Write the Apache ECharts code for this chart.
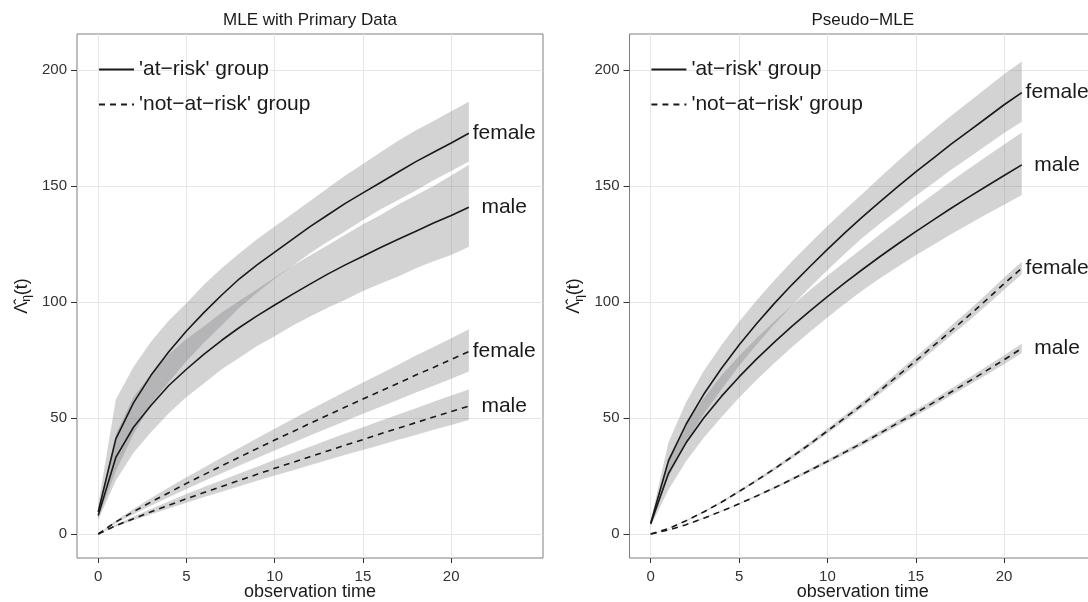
<!DOCTYPE html>
<html>
<head>
    <meta charset="utf-8" />
    <title>MLE vs Pseudo-MLE</title>
    <script src="https://cdn.jsdelivr.net/npm/echarts@6/dist/echarts.min.js"></script>
    <style type="text/css">
        html, body { margin: 0; padding: 0; background: #fff; }
        #chart { width: 1088px; height: 602px; }
    </style>
</head>
<body>
    <div id="chart"></div>
    <script>
        // observation times
        var times = [0, 1, 2, 3, 4, 5, 6, 7, 8, 9, 10, 11, 12, 13, 14, 15, 16, 17, 18, 19, 20, 21];

        // MLE with primary data - 'at-risk' group
        var mleRiskF   = [9.5, 41, 56.5, 68.5, 78.5, 87.5, 95.5, 103, 110, 116, 121.5, 127, 132.5, 137.5, 142.5, 147, 151.5, 156, 160.5, 164.5, 168.5, 172.7];
        var mleRiskFHi = [12.5, 58, 72, 83, 92, 99.5, 107.5, 114.5, 121, 127, 132.5, 138, 143.5, 149, 154.5, 159.5, 164.5, 169.5, 174, 178, 182.2, 186.3];
        var mleRiskFLo = [7, 27, 43, 56, 65.5, 74.5, 82.5, 90, 97.5, 104, 110, 115.5, 121, 126, 130.5, 135.3, 140, 144, 148, 152.5, 156.5, 160.5];
        var mleRiskM   = [8, 33, 46, 55.5, 64, 71, 77.5, 83.5, 89, 94, 98.7, 103.3, 107.7, 112, 116, 119.7, 123.5, 127, 130.5, 134, 137.3, 140.8];
        var mleRiskMHi = [10, 43, 59, 69, 77.5, 84, 89.5, 95.5, 100.5, 105.5, 110.5, 115.5, 120, 124.5, 129, 133.5, 137.5, 142, 146, 150, 154.5, 159];
        var mleRiskMLo = [6, 23, 35, 44, 52, 59, 65, 71, 76, 81, 85.2, 89.8, 93.7, 97.5, 101, 104.7, 108, 111, 114.5, 117.5, 120.3, 123.8];

        // MLE with primary data - 'not-at-risk' group
        var mleNotF   = [0, 5.2, 9.6, 13.8, 17.8, 21.8, 25.6, 29.4, 33.1, 36.8, 40.5, 44.0, 47.7, 51.2, 54.7, 58.2, 61.6, 65.0, 68.5, 71.8, 75.2, 78.6];
        var mleNotFHi = [0, 5.8, 10.8, 15.5, 20, 24.5, 28.7, 33, 37.1, 41.3, 45.4, 49.4, 53.5, 57.4, 61.4, 65.3, 69.1, 72.9, 76.9, 80.6, 84.4, 88.2];
        var mleNotFLo = [0, 4.6, 8.5, 12.3, 15.8, 19.4, 22.8, 26.2, 29.5, 32.8, 36, 39.2, 42.5, 45.6, 48.7, 51.8, 54.8, 57.9, 61, 63.9, 66.9, 70];
        var mleNotM   = [0, 3.6, 6.6, 9.6, 12.4, 15.2, 17.9, 20.5, 23.1, 25.7, 28.3, 30.8, 33.3, 35.8, 38.3, 40.7, 43.2, 45.6, 48, 50.4, 52.8, 55.1];
        var mleNotMHi = [0, 4.1, 7.5, 10.8, 14, 17.2, 20.2, 23.2, 26.1, 29, 32, 34.8, 37.6, 40.5, 43.3, 46, 48.8, 51.5, 54.2, 57, 59.7, 62.3];
        var mleNotMLo = [0, 3.2, 5.9, 8.5, 11, 13.5, 15.9, 18.2, 20.6, 22.9, 25.2, 27.4, 29.6, 31.9, 34.1, 36.2, 38.4, 40.6, 42.7, 44.9, 47, 49.1];

        // Pseudo-MLE - 'at-risk' group
        var psRiskF   = [4.6, 31.4, 47.3, 60.2, 71.3, 81.5, 90.7, 99.4, 107.5, 115.2, 122.7, 129.9, 136.8, 143.4, 149.8, 156.1, 162, 168, 173.6, 179.3, 185, 190.2];
        var psRiskFHi = [5.6, 39.4, 56.8, 70.2, 81.3, 91.5, 100.7, 109.4, 117.5, 125.2, 132.7, 139.9, 146.8, 153.9, 160.8, 167.6, 174, 180.3, 186.2, 192.2, 198.2, 203.6];
        var psRiskFLo = [3.6, 24.4, 39.3, 51.7, 62.3, 72.5, 81.7, 90.4, 98.5, 106.2, 113.7, 120.9, 127.8, 133.9, 139.8, 145.8, 151.3, 157, 162.2, 167.5, 172.8, 177.7];
        var psRiskM   = [4.4, 26, 39.3, 50, 59.3, 67.7, 75.5, 82.7, 89.6, 96.1, 102.3, 108.3, 114.1, 119.7, 125.1, 130.3, 135.4, 140.4, 145.2, 149.9, 154.5, 159.1];
        var psRiskMHi = [5.4, 33, 47.3, 58.5, 68.3, 76.7, 84.5, 91.7, 98.6, 105.1, 111.3, 117.3, 123.3, 129.3, 135.1, 140.8, 146.4, 152, 157.4, 162.7, 167.9, 173];
        var psRiskMLo = [3.4, 19, 31.3, 41.5, 50.3, 58.7, 66.5, 73.7, 80.6, 87.1, 93.3, 99.3, 105.1, 110.3, 115.3, 120.1, 124.7, 129.2, 133.5, 137.8, 141.9, 146.1];

        // Pseudo-MLE - 'not-at-risk' group
        var psNotF   = [0, 2.3, 5.7, 9.5, 13.7, 18.3, 23.1, 28.1, 33.3, 38.7, 44.4, 50.1, 55.9, 62, 68.3, 74.6, 81.1, 87.6, 94.1, 100.9, 107.9, 114.6];
        var psNotFHi = [0, 2.4, 5.9, 9.8, 14.1, 18.8, 23.7, 28.8, 34.1, 39.6, 45.5, 51.3, 57.2, 63.5, 69.9, 76.4, 83, 89.7, 96.4, 103.3, 110.5, 117.3];
        var psNotFLo = [0, 2.2, 5.5, 9.2, 13.3, 17.8, 22.5, 27.4, 32.5, 37.8, 43.3, 48.9, 54.6, 60.5, 66.7, 72.8, 79.2, 85.5, 91.8, 98.5, 105.3, 111.9];
        var psNotM   = [0, 1.7, 4.0, 6.8, 9.8, 13, 16.4, 19.9, 23.6, 27.4, 31.3, 35.3, 39.3, 43.5, 47.9, 52.2, 56.6, 61.2, 65.7, 70.4, 75.1, 80];
        var psNotMHi = [0, 1.8, 4.1, 7, 10, 13.3, 16.8, 20.4, 24.2, 28.1, 32.1, 36.2, 40.3, 44.6, 49.1, 53.5, 58, 62.7, 67.3, 72.2, 77, 82];
        var psNotMLo = [0, 1.6, 3.9, 6.6, 9.6, 12.7, 16, 19.4, 23, 26.7, 30.5, 34.4, 38.3, 42.4, 46.7, 50.9, 55.2, 59.7, 64.1, 68.6, 73.2, 78];

        // axis ticks and texts
        var xTicks = [0, 5, 10, 15, 20];
        var yTicks = [0, 50, 100, 150, 200];
        var groupNames = ["'at\u2212risk' group", "'not\u2212at\u2212risk' group"];
        var panelTitles = ['MLE with Primary Data', 'Pseudo\u2212MLE'];

        var FONT = "'Liberation Sans', Arial, Helvetica, sans-serif";
        var INK = '#1a1a1a';
        var BAND = 'rgba(120,120,125,0.33)';
        var LABEL_T = 23;

        function pairs(ys) {
            return times.map(function (t, i) { return [t, ys[i]]; });
        }

        function band(hi, lo, gi) {
            return {
                type: 'custom',
                xAxisIndex: gi,
                yAxisIndex: gi,
                silent: true,
                z: 1,
                data: [[0, 0]],
                renderItem: function (params, api) {
                    var pts = [];
                    for (var i = 0; i < times.length; i++) pts.push(api.coord([times[i], hi[i]]));
                    for (var j = times.length - 1; j >= 0; j--) pts.push(api.coord([times[j], lo[j]]));
                    return { type: 'polygon', shape: { points: pts }, style: { fill: BAND } };
                }
            };
        }

        function line(ys, gi, dashed) {
            return {
                type: 'line',
                name: dashed ? groupNames[1] : groupNames[0],
                xAxisIndex: gi,
                yAxisIndex: gi,
                data: pairs(ys),
                symbol: 'none',
                showSymbol: false,
                z: 2,
                lineStyle: { color: INK, width: 1.6, type: dashed ? [6, 5] : 'solid' },
                itemStyle: { color: INK }
            };
        }

        function endLabels(list, gi) {
            return {
                type: 'scatter',
                xAxisIndex: gi,
                yAxisIndex: gi,
                symbolSize: 1,
                itemStyle: { color: '#ffffff', opacity: 1 },
                silent: true,
                z: 3,
                data: list.map(function (d) {
                    return [LABEL_T, d[0][d[0].length - 1], d[1]];
                }),
                label: {
                    show: true,
                    position: [0.5, 0.5],
                    align: 'center',
                    verticalAlign: 'middle',
                    formatter: function (p) { return p.value[2]; },
                    fontSize: 21,
                    fontFamily: FONT,
                    color: INK,
                    textBorderWidth: 0
                }
            };
        }

        var grids = [
            { left: 77, top: 34, width: 466, height: 524 },
            { left: 629.5, top: 34, width: 466.5, height: 524 }
        ];

        function xAxis(gi) {
            return {
                type: 'value', gridIndex: gi, min: -1.2, max: 25.2,
                name: 'observation time', nameLocation: 'middle', nameGap: 25, nameMoveOverlap: false,
                nameTextStyle: { fontSize: 18, fontFamily: FONT, color: INK },
                axisLine: { show: false, onZero: false },
                axisTick: { show: true, length: 5, customValues: xTicks, lineStyle: { color: '#333', width: 1 } },
                axisLabel: { customValues: xTicks, margin: 11, fontSize: 15, fontFamily: FONT, color: '#333' },
                splitLine: { show: true, lineStyle: { color: '#e6e6e6', width: 1 } }
            };
        }

        function yAxis(gi) {
            return {
                type: 'value', gridIndex: gi, min: -10.35, max: 215.5,
                name: '{h|\u039B\u0302}{s|\u03B7}{h|(t)}', nameLocation: 'middle', nameRotate: 90, nameGap: 44,
                nameMoveOverlap: false,
                nameTextStyle: {
                    fontFamily: FONT, color: INK,
                    rich: {
                        h: { fontSize: 18, lineHeight: 22, fontFamily: FONT, color: INK },
                        s: { fontSize: 12, lineHeight: 13, verticalAlign: 'bottom', fontFamily: FONT, color: INK }
                    }
                },
                axisLine: { show: false, onZero: false },
                axisTick: { show: true, length: 6, customValues: yTicks, lineStyle: { color: '#333', width: 1 } },
                axisLabel: { customValues: yTicks, margin: 10, fontSize: 15, fontFamily: FONT, color: '#333' },
                splitLine: { show: true, lineStyle: { color: '#e6e6e6', width: 1 } }
            };
        }

        function legend(left) {
            return {
                left: left, top: 57.5, orient: 'vertical', padding: 0,
                itemWidth: 35, itemHeight: 14, itemGap: 11,
                selectedMode: false,
                data: groupNames,
                itemStyle: { opacity: 0 },
                textStyle: { fontSize: 21, lineHeight: 24, fontFamily: FONT, color: INK }
            };
        }

        var chart = echarts.init(document.getElementById('chart'), null, { renderer: 'canvas' });

        var option = {
            animation: false,
            backgroundColor: '#ffffff',
            title: [
                { text: panelTitles[0], left: 310, top: 12, textAlign: 'center', padding: 0,
                  textStyle: { fontSize: 17, fontWeight: 'normal', fontFamily: FONT, color: INK } },
                { text: panelTitles[1], left: 862.8, top: 12, textAlign: 'center', padding: 0,
                  textStyle: { fontSize: 17, fontWeight: 'normal', fontFamily: FONT, color: INK } }
            ],
            legend: [legend(98), legend(650.4)],
            grid: grids.map(function (g) {
                return Object.assign({
                    show: true, borderColor: '#7f7f7f', borderWidth: 1, backgroundColor: 'transparent',
                    containLabel: false, outerBoundsMode: 'none'
                }, g);
            }),
            xAxis: [xAxis(0), xAxis(1)],
            yAxis: [yAxis(0), yAxis(1)],
            series: [
                band(mleRiskFHi, mleRiskFLo, 0),
                band(mleRiskMHi, mleRiskMLo, 0),
                band(mleNotFHi, mleNotFLo, 0),
                band(mleNotMHi, mleNotMLo, 0),
                band(psRiskFHi, psRiskFLo, 1),
                band(psRiskMHi, psRiskMLo, 1),
                band(psNotFHi, psNotFLo, 1),
                band(psNotMHi, psNotMLo, 1),
                line(mleRiskF, 0, false),
                line(mleRiskM, 0, false),
                line(mleNotF, 0, true),
                line(mleNotM, 0, true),
                line(psRiskF, 1, false),
                line(psRiskM, 1, false),
                line(psNotF, 1, true),
                line(psNotM, 1, true),
                endLabels([[mleRiskF, 'female'], [mleRiskM, 'male'], [mleNotF, 'female'], [mleNotM, 'male']], 0),
                endLabels([[psRiskF, 'female'], [psRiskM, 'male'], [psNotF, 'female'], [psNotM, 'male']], 1)
            ]
        };

        chart.setOption(option);
    </script>
</body>
</html>
